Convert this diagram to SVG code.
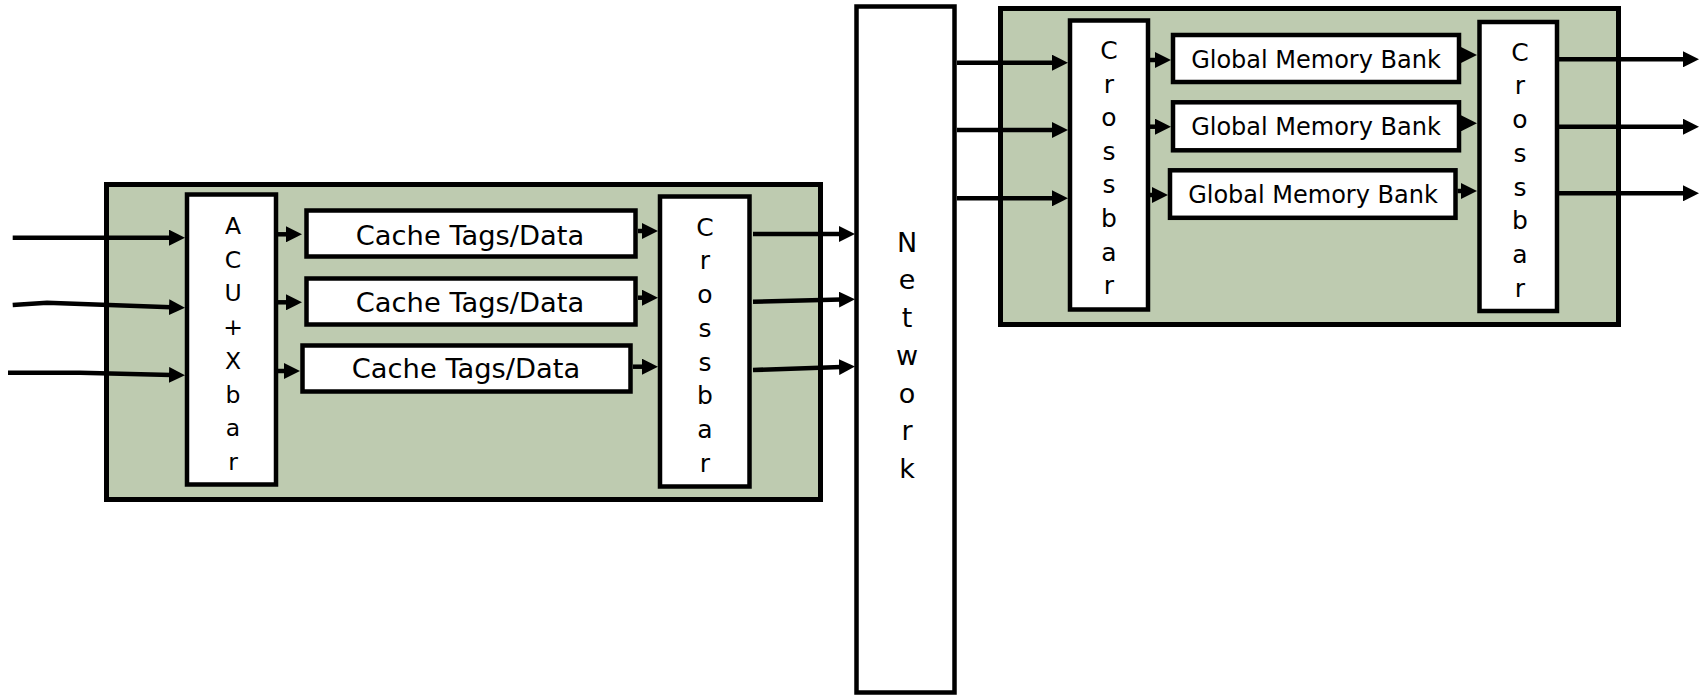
<svg xmlns="http://www.w3.org/2000/svg" width="1702" height="696" viewBox="0 0 1702 696">
<style>
.grp{fill:#BECBB0;stroke:#000;stroke-width:5}
.box{fill:#fff;stroke:#000;stroke-width:4.5}
.lbl{font-family:"DejaVu Sans","Verdana",sans-serif;fill:#000;text-anchor:middle}
.conn{fill:none;stroke:#000;stroke-width:4.5}
</style>
<defs>
<marker id="ah" markerUnits="userSpaceOnUse" markerWidth="16" markerHeight="16" refX="2" refY="8" orient="auto" viewBox="0 0 16 16">
<path d="M0,0 L16,8 L0,16 z" fill="#000"/>
</marker>
</defs>
<rect width="1702" height="696" fill="#fff"/>
<g id="left-group"><rect class="grp" x="106.5" y="184.5" width="714" height="315"/></g>
<g id="right-group"><rect class="grp" x="1000.5" y="8.5" width="618" height="316"/></g>
<g id="acu-xbar">
<rect class="box" x="187" y="194.5" width="89" height="290"/>
<text class="lbl" font-size="23.5"><tspan x="233" y="234">A</tspan><tspan x="233" y="267.7">C</tspan><tspan x="233" y="301.4">U</tspan><tspan x="233" y="335.1">+</tspan><tspan x="233" y="368.8">X</tspan><tspan x="233" y="402.5">b</tspan><tspan x="233" y="436.2">a</tspan><tspan x="233" y="469.9">r</tspan></text>
</g>
<g id="cache1"><rect class="box" x="306.5" y="210.5" width="329" height="46"/><text class="lbl" font-size="27.3" x="470" y="245">Cache Tags/Data</text></g>
<g id="cache2"><rect class="box" x="306.5" y="278.5" width="329" height="46"/><text class="lbl" font-size="27.3" x="470" y="311.7">Cache Tags/Data</text></g>
<g id="cache3"><rect class="box" x="302.5" y="345.5" width="328" height="46"/><text class="lbl" font-size="27.3" x="466" y="378.3">Cache Tags/Data</text></g>
<g id="crossbar-left">
<rect class="box" x="660" y="196.5" width="89.5" height="290"/>
<text class="lbl" font-size="25"><tspan x="705" y="235.7">C</tspan><tspan x="705" y="269.4">r</tspan><tspan x="705" y="303.1">o</tspan><tspan x="705" y="336.8">s</tspan><tspan x="705" y="370.5">s</tspan><tspan x="705" y="404.2">b</tspan><tspan x="705" y="437.9">a</tspan><tspan x="705" y="471.6">r</tspan></text>
</g>
<g id="network">
<rect class="box" x="856.5" y="6.5" width="98" height="686" stroke-width="5"/>
<text class="lbl" font-size="27"><tspan x="907" y="251.7">N</tspan><tspan x="907" y="289.4">e</tspan><tspan x="907" y="327.1">t</tspan><tspan x="907" y="364.8">w</tspan><tspan x="907" y="402.5">o</tspan><tspan x="907" y="440.2">r</tspan><tspan x="907" y="477.9">k</tspan></text>
</g>
<g id="crossbar-r1">
<rect class="box" x="1070" y="20.5" width="78" height="289"/>
<text class="lbl" font-size="25"><tspan x="1109" y="59">C</tspan><tspan x="1109" y="92.6">r</tspan><tspan x="1109" y="126.2">o</tspan><tspan x="1109" y="159.8">s</tspan><tspan x="1109" y="193.4">s</tspan><tspan x="1109" y="227">b</tspan><tspan x="1109" y="260.6">a</tspan><tspan x="1109" y="294.2">r</tspan></text>
</g>
<g id="gmem1"><rect class="box" x="1173" y="35" width="286" height="47"/><text class="lbl" font-size="24" x="1316" y="68.3">Global Memory Bank</text></g>
<g id="gmem2"><rect class="box" x="1173" y="102.3" width="286" height="48"/><text class="lbl" font-size="24" x="1316" y="135">Global Memory Bank</text></g>
<g id="gmem3"><rect class="box" x="1170" y="170.3" width="285.5" height="47.5"/><text class="lbl" font-size="24" x="1313" y="203.3">Global Memory Bank</text></g>
<g id="crossbar-r2">
<rect class="box" x="1479.5" y="22" width="77.5" height="289"/>
<text class="lbl" font-size="25"><tspan x="1520" y="60.7">C</tspan><tspan x="1520" y="94.4">r</tspan><tspan x="1520" y="128.1">o</tspan><tspan x="1520" y="161.8">s</tspan><tspan x="1520" y="195.5">s</tspan><tspan x="1520" y="229.2">b</tspan><tspan x="1520" y="262.9">a</tspan><tspan x="1520" y="296.6">r</tspan></text>
</g>
<g id="connectors" class="conn" marker-end="url(#ah)">
<path d="M12.7,237.7 L171,237.7"/>
<path d="M12.7,305 L47,302.7 L171,307.3"/>
<path d="M8,372.7 L80,372.7 L171,375"/>
<path d="M278,234.3 L288,234.3"/>
<path d="M278,302.3 L288,302.3"/>
<path d="M278,371 L286,371"/>
<path d="M638,231 L644,231"/>
<path d="M638,297.7 L644,297.7"/>
<path d="M633,366.7 L644,366.7"/>
<path d="M753,234 L841,234"/>
<path d="M753,301.7 L841,299.5"/>
<path d="M753,370 L841,367"/>
<path d="M957,62.7 L1054,62.7"/>
<path d="M957,130 L1054,130"/>
<path d="M957,198.3 L1054,198.3"/>
<path d="M1150,60 L1157,60"/>
<path d="M1150,126.7 L1157,126.7"/>
<path d="M1150,195 L1154,195"/>
<path d="M1461,55 L1463,55"/>
<path d="M1461,123.3 L1463,123.3"/>
<path d="M1457.5,191 L1463,191"/>
<path d="M1559,59.3 L1685,59.3"/>
<path d="M1559,126.7 L1685,126.7"/>
<path d="M1559,193.3 L1685,193.3"/>
</g>
</svg>
